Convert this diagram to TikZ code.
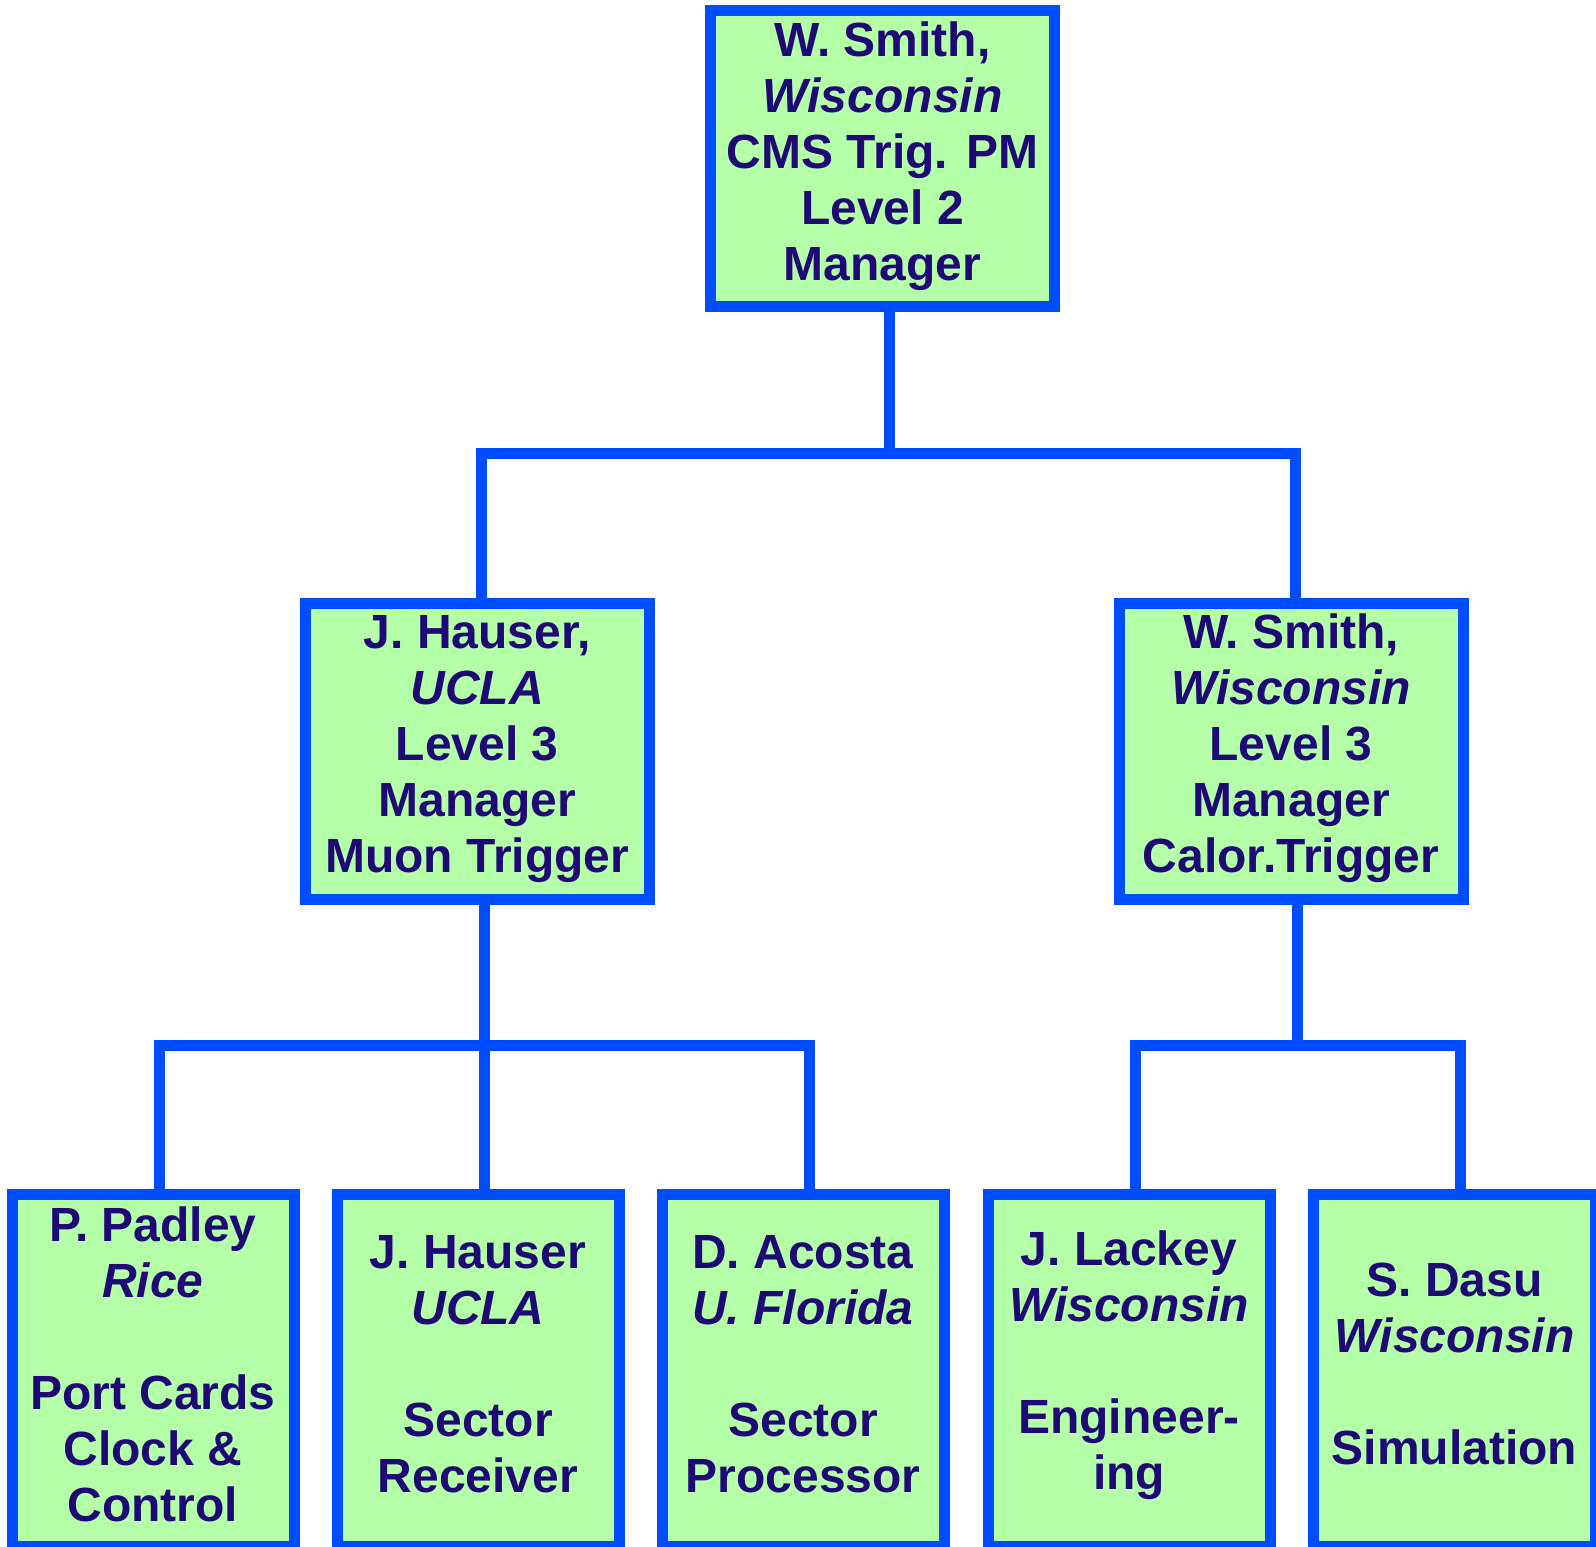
\documentclass[tikz,border=0pt]{standalone}
\usepackage{fontspec}
\setmainfont{Liberation Sans}
\definecolor{bordblue}{RGB}{0,76,255}
\definecolor{boxfill}{RGB}{181,255,168}
\definecolor{navytext}{RGB}{31,10,117}
\begin{document}
\begin{tikzpicture}[x=1pt,y=-1pt,
  orgbox/.style={draw=bordblue, fill=boxfill, line width=11pt, inner sep=0pt,
    align=center, text=navytext, font=\fontsize{48}{56}\selectfont\bfseries},
  midbox/.style={orgbox, minimum width=344pt, minimum height=296pt, text depth=15pt},
  leafbox/.style={orgbox, minimum width=282pt, minimum height=352pt, text depth=14pt},
  conn/.style={draw=bordblue, line width=11pt}]
\useasboundingbox (0,0) rectangle (1596,1547);
\fill[white] (0,0) rectangle (1596,1547);
% boxes
\node[midbox] (top) at (882.5,158.5) {W. Smith,\\\textit{Wisconsin}\\CMS Trig. PM\\Level 2\\Manager};
\node[midbox] (ml) at (477.3,751) {J. Hauser,\\\textit{UCLA}\\Level 3\\Manager\\Muon Trigger};
\node[midbox] (mr) at (1291,751) {W. Smith,\\\textit{Wisconsin}\\Level 3\\Manager\\Calor.Trigger};
\node[leafbox] (b1) at (153,1370.6) {P. Padley\\\textit{Rice}\\[56pt]Port Cards\\Clock \&\\Control};
\node[leafbox] (b2) at (478,1370.6) {J. Hauser\\\textit{UCLA}\\[56pt]Sector\\Receiver};
\node[leafbox] (b3) at (803,1370.6) {D. Acosta\\\textit{U. Florida}\\[56pt]Sector\\Processor};
\node[leafbox, text depth=22pt] (b4) at (1129,1370.6) {J. Lackey\\\textit{Wisconsin}\\[56pt]Engineer-\\ing};
\node[leafbox] (b5) at (1454.6,1370.6) {S. Dasu\\\textit{Wisconsin}\\[56pt]Simulation};
% junctions
\coordinate (j1) at (889,453.5);
\coordinate (j2) at (484.5,1045.5);
\coordinate (j3) at (1297,1045.5);
% connectors
\draw[conn] (top.south -| j1) -- (j1);
\draw[conn] ([xshift=4pt]ml.north) |- (j1) -| ([xshift=4.5pt]mr.north);
\draw[conn] (ml.south -| j2) -- (j2);
\draw[conn] ([xshift=6pt]b1.north) |- (j2) -| ([xshift=6pt]b3.north);
\draw[conn] (j2) -- (b2.north -| j2);
\draw[conn] (mr.south -| j3) -- (j3);
\draw[conn] ([xshift=6.5pt]b4.north) |- (j3) -| ([xshift=6pt]b5.north);
\end{tikzpicture}
\end{document}
